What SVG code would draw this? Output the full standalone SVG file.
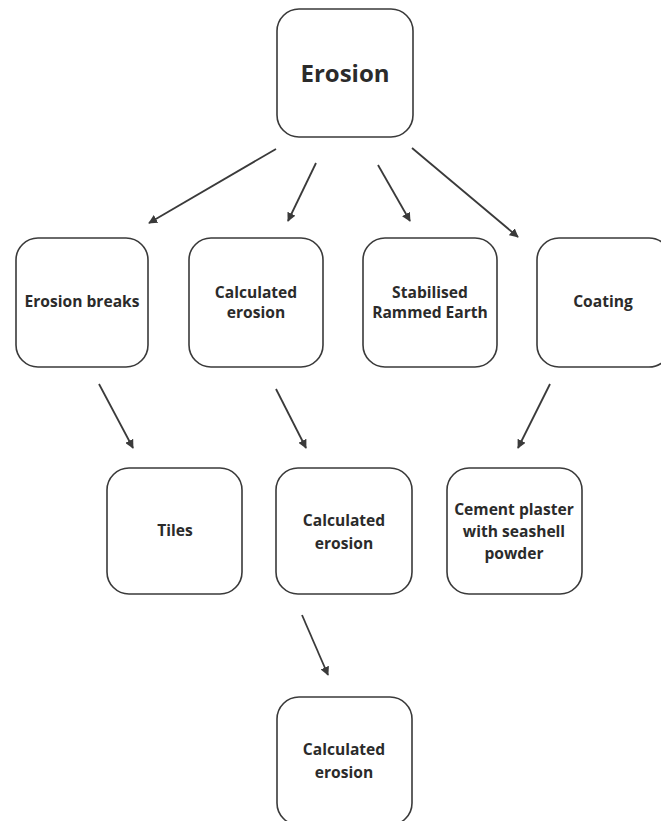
<svg xmlns="http://www.w3.org/2000/svg" width="661" height="821" viewBox="0 0 661 821">
  <style>
    .box { fill: #ffffff; stroke: #3a3a3a; stroke-width: 1.6; }
    .lbl { font-family: "Open Sans", "Noto Sans", "Liberation Sans", sans-serif; font-weight: 700; font-size: 15.6px; fill: #2b2b2b; text-anchor: middle; }
    .title { font-size: 24px; }
    .edge { stroke: #3a3a3a; stroke-width: 1.8; fill: none; marker-end: url(#head); }
  </style>
  <defs>
    <marker id="head" viewBox="0 0 10 10" refX="9" refY="5" markerWidth="5" markerHeight="5" orient="auto" markerUnits="strokeWidth">
      <path d="M0,0 L10,5 L0,10 Z" fill="#3a3a3a"/>
    </marker>
  </defs>
  <rect width="661" height="821" fill="#ffffff"/>

  <g id="edges">
    <line class="edge" x1="276" y1="149" x2="149" y2="223"/>
    <line class="edge" x1="316" y1="163" x2="288" y2="221"/>
    <line class="edge" x1="378" y1="165" x2="410" y2="221"/>
    <line class="edge" x1="412" y1="148" x2="518" y2="237"/>
    <line class="edge" x1="99" y1="384" x2="133" y2="448"/>
    <line class="edge" x1="276" y1="389" x2="306" y2="448"/>
    <line class="edge" x1="550" y1="384" x2="518" y2="448"/>
    <line class="edge" x1="302" y1="615" x2="328" y2="675"/>
  </g>

  <g id="erosion">
    <rect class="box" x="277" y="9" width="136" height="128" rx="22"/>
    <text class="lbl title" x="345" y="82">Erosion</text>
  </g>

  <g id="erosion-breaks">
    <rect class="box" x="16" y="238" width="132" height="129" rx="22"/>
    <text class="lbl" x="82" y="307">Erosion breaks</text>
  </g>

  <g id="calculated-erosion-1">
    <rect class="box" x="189" y="238" width="134" height="129" rx="22"/>
    <text class="lbl" x="256" y="298">Calculated</text>
    <text class="lbl" x="256" y="318">erosion</text>
  </g>

  <g id="stabilised">
    <rect class="box" x="363" y="238" width="134" height="129" rx="22"/>
    <text class="lbl" x="430" y="298">Stabilised</text>
    <text class="lbl" x="430" y="318">Rammed Earth</text>
  </g>

  <g id="coating">
    <rect class="box" x="537" y="238" width="134" height="129" rx="22"/>
    <text class="lbl" x="603" y="307">Coating</text>
  </g>

  <g id="tiles">
    <rect class="box" x="107" y="468" width="135" height="126" rx="22"/>
    <text class="lbl" x="175" y="536">Tiles</text>
  </g>

  <g id="calculated-erosion-2">
    <rect class="box" x="276" y="468" width="136" height="126" rx="22"/>
    <text class="lbl" x="344" y="526">Calculated</text>
    <text class="lbl" x="344" y="549">erosion</text>
  </g>

  <g id="cement-plaster">
    <rect class="box" x="447" y="468" width="135" height="126" rx="22"/>
    <text class="lbl" x="514" y="515">Cement plaster</text>
    <text class="lbl" x="514" y="537">with seashell</text>
    <text class="lbl" x="514" y="559">powder</text>
  </g>

  <g id="calculated-erosion-3">
    <rect class="box" x="277" y="697" width="135" height="128" rx="22"/>
    <text class="lbl" x="344" y="755">Calculated</text>
    <text class="lbl" x="344" y="778">erosion</text>
  </g>
</svg>
